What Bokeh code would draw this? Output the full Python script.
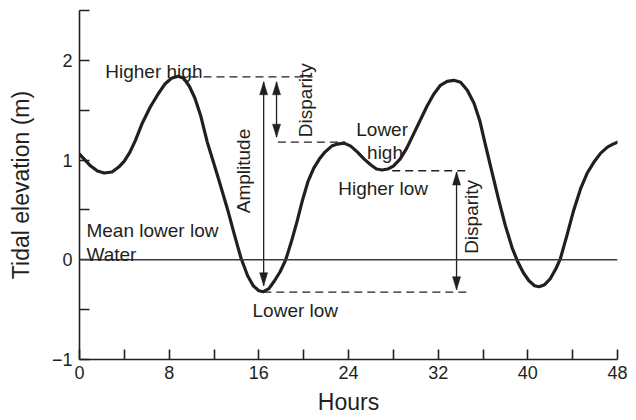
import math
from bokeh.plotting import figure
from bokeh.models import Range1d, FixedTicker, Span, Label
from bokeh.embed import file_html
from bokeh.resources import INLINE

# ---- data ----
hours = [0, 0.5, 1, 1.6, 2.2, 2.9, 3.5, 4.0, 4.5, 5.0, 5.6, 6.3, 7.0, 7.6, 8.2, 8.8,
         9.3, 9.8, 10.3, 10.8, 11.4, 12.3, 13.2, 13.8, 14.4, 15.0, 15.5, 16.0, 16.4,
         16.9, 17.4, 17.9, 18.4, 18.9, 19.4, 19.9, 20.4, 20.9, 21.4, 21.9, 22.5, 23.0,
         23.6, 24.2, 24.8, 25.4, 26.0, 26.5, 27.0, 27.5, 28.0, 28.6, 29.2, 29.8, 30.4,
         31.0, 31.6, 32.2, 32.8, 33.4, 34.0, 34.6, 35.2, 35.7, 36.2, 36.8, 37.4, 38.0,
         38.6, 39.1, 39.6, 40.1, 40.6, 41.0, 41.5, 42.0, 42.5, 42.9, 43.5, 44.1, 44.7,
         45.3, 45.9, 46.5, 47.1, 47.6, 48.0]
elevation = [1.06, 1.00, 0.94, 0.89, 0.87, 0.88, 0.93, 0.99, 1.08, 1.20, 1.37, 1.53, 1.66,
             1.76, 1.82, 1.84, 1.82, 1.74, 1.62, 1.45, 1.18, 0.85, 0.51, 0.26, 0.02, -0.16,
             -0.26, -0.31, -0.32, -0.29, -0.21, -0.12, 0.00, 0.18, 0.38, 0.60, 0.79, 0.92,
             1.01, 1.08, 1.14, 1.16, 1.17, 1.14, 1.08, 1.01, 0.95, 0.91, 0.90, 0.91, 0.94,
             1.01, 1.12, 1.26, 1.40, 1.54, 1.66, 1.75, 1.79, 1.80, 1.78, 1.70, 1.57, 1.40,
             1.16, 0.88, 0.60, 0.34, 0.12, -0.02, -0.13, -0.21, -0.26, -0.27, -0.25, -0.19,
             -0.09, 0.01, 0.25, 0.50, 0.71, 0.87, 0.98, 1.07, 1.13, 1.16, 1.18]

mllw_level = 0.0

# reference levels (dashed): start hour, end hour, level
ref_x0 = [9.9, 17.7, 27.9, 16.4]
ref_x1 = [20.8, 23.7, 34.6, 34.6]
ref_y = [1.835, 1.18, 0.893, -0.325]

# double-headed arrows: hour, lower tip, upper tip
arrow_x = [16.43, 17.58, 33.64]
arrow_lo = [-0.26, 1.23, -0.30]
arrow_hi = [1.785, 1.785, 0.88]

# text annotations
ann_text = ["Higher high", "Lower", "high", "Higher low", "Lower low",
            "Mean lower low", "Water", "Amplitude", "Disparity", "Disparity"]
ann_x = [2.3, 27.0, 27.26, 23.08, 15.44, 0.62, 0.62, 14.63, 20.2, 34.97]
ann_y = [1.89, 1.31, 1.076, 0.71, -0.51, 0.29, 0.057, 0.89, 1.60, 0.43]
ann_rot = [False, False, False, False, False, False, False, True, True, True]
ann_align = ["left", "center", "center", "left", "left", "left", "left", "center", "center", "center"]

x_ticks = [0, 4, 8, 12, 16, 20, 24, 28, 32, 36, 40, 44, 48]
x_labels = {t: (str(t) if t % 8 == 0 else "") for t in x_ticks}
y_ticks = [-1, -0.5, 0, 0.5, 1, 1.5, 2, 2.5]
y_labels = {-1: "\u22121", -0.5: "", 0: "0", 0.5: "", 1: "1", 1.5: "", 2: "2", 2.5: ""}

x_title = "Hours"
y_title = "Tidal elevation (m)"

# ---- figure ----
FONT = "Liberation Sans"
INK = "#231f20"
W, H = 636, 420
BL, BR, BT, BB = 79, 19, 10, 61

p = figure(width=W, height=H, x_range=Range1d(0, 48), y_range=Range1d(-1, 2.5),
           output_backend="svg", toolbar_location=None,
           min_border_left=BL, min_border_right=BR, min_border_top=BT, min_border_bottom=BB)
p.xgrid.visible = False
p.ygrid.visible = False
p.outline_line_color = None
p.background_fill_color = "white"
p.border_fill_color = "white"

for ax, ticks, labels in ((p.xaxis[0], x_ticks, x_labels), (p.yaxis[0], y_ticks, y_labels)):
    ax.ticker = FixedTicker(ticks=ticks, minor_ticks=[])
    ax.major_label_overrides = labels
    ax.major_tick_in = 10
    ax.major_tick_out = 0
    ax.minor_tick_in = 0
    ax.minor_tick_out = 0
    ax.axis_line_color = INK
    ax.axis_line_width = 1.6
    ax.major_tick_line_color = INK
    ax.major_tick_line_width = 1.6
    ax.major_label_text_font = FONT
    ax.major_label_text_font_size = "18px"
    ax.major_label_text_color = INK
    ax.axis_label_text_font = FONT
    ax.axis_label_text_font_size = "23px"
    ax.axis_label_text_font_style = "normal"
    ax.axis_label_text_color = INK
p.xaxis[0].major_label_standoff = 6
p.yaxis[0].major_label_standoff = 7
p.xaxis[0].axis_label = x_title
p.yaxis[0].axis_label = y_title
p.xaxis[0].axis_label_standoff = 7
p.yaxis[0].axis_label_standoff = 15

p.add_layout(Span(location=mllw_level, dimension="width", line_color="#3a3a3a", line_width=1.4))

p.line(hours, elevation, line_color=INK, line_width=3.2, line_join="round", line_cap="round")

p.segment(x0=ref_x0, y0=ref_y, x1=ref_x1, y1=ref_y, line_color=INK, line_width=1.3,
          line_dash="8 5")

p.segment(x0=arrow_x, y0=arrow_lo, x1=arrow_x, y1=arrow_hi, line_color=INK, line_width=1.3)

# arrow heads (narrow filled triangles), sized in pixels
fw = W - BL - BR
fh = H - BT - BB
px_x = 48.0 / fw
px_y = 3.5 / fh
head_len = 13 * px_y
head_half = 4 * px_x
hx, hy = [], []
for x, lo, hi in zip(arrow_x, arrow_lo, arrow_hi):
    hx.append([x, x - head_half, x + head_half])
    hy.append([hi, hi - head_len, hi - head_len])
    hx.append([x, x - head_half, x + head_half])
    hy.append([lo, lo + head_len, lo + head_len])
p.patches(hx, hy, fill_color=INK, line_color=INK, line_width=0.5)

for t, x, y, rot, al in zip(ann_text, ann_x, ann_y, ann_rot, ann_align):
    p.add_layout(Label(x=x, y=y, text=t, angle=(math.pi / 2 if rot else 0),
                       text_align=al, text_baseline=("middle" if rot else "alphabetic"),
                       text_font=FONT, text_font_size="19px", text_color=INK))

open("out.html", "w").write(file_html(p, INLINE))
